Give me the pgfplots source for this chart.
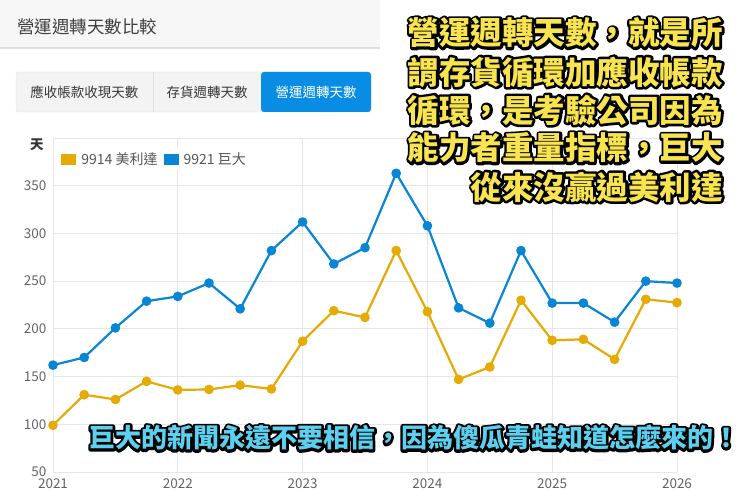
\documentclass[border=0pt]{standalone}
\usepackage{fontspec}
\setmainfont{Noto Sans CJK TC}
\usepackage{pgfplots}
\pgfplotsset{compat=1.18}
\definecolor{cblue}{RGB}{8,134,213}
\definecolor{cyellow}{RGB}{230,170,5}
\definecolor{gridc}{RGB}{230,230,230}
\definecolor{tickc}{RGB}{100,100,100}
\definecolor{legc}{RGB}{85,85,85}
\definecolor{tabbg}{RGB}{243,243,243}
\definecolor{tabline}{RGB}{222,222,222}
\definecolor{tabblue}{RGB}{8,140,228}
\definecolor{headbg}{RGB}{247,247,247}
\definecolor{oyellow}{RGB}{248,228,80}
\definecolor{ocyan}{RGB}{92,208,238}
\newcommand{\otext}[6]{%
  \node[anchor=#3,text=black,inner sep=0pt,font=\fontsize{#4}{#4}\selectfont\bfseries] at (#1,#2)
    {\special{pdf:literal direct 1 Tr 5 w 1 j 1 J 0 G}#6\special{pdf:literal direct 0 Tr}};
  \node[anchor=#3,text=#5,inner sep=0pt,font=\fontsize{#4}{#4}\selectfont\bfseries] at (#1,#2) {#6};}
\begin{document}
\begin{tikzpicture}[x=1pt,y=1pt]
\path[use as bounding box,fill=white] (0,0) rectangle (740,497);
% header
\fill[headbg] (0,449) rectangle (380,497);
\draw[tabline,line width=1.5pt] (0,449) -- (380,449);
\node[anchor=west,text=black!75,inner sep=0pt,font=\fontsize{17.5}{17.5}\selectfont] at (17,470) {營運週轉天數比較};
% tabs
\filldraw[fill=tabbg,draw=tabline,rounded corners=3pt] (16,385) rectangle (371,425);
\fill[tabblue,rounded corners=3pt] (261,385) rectangle (371,425);
\draw[tabline] (153,385) -- (153,425);
\node[text=black!78,inner sep=0pt,font=\fontsize{13.5}{13.5}\selectfont] at (84.5,405) {應收帳款收現天數};
\node[text=black!78,inner sep=0pt,font=\fontsize{13.5}{13.5}\selectfont] at (207,405) {存貨週轉天數};
\node[text=white,inner sep=0pt,font=\fontsize{13.5}{13.5}\selectfont] at (316,405) {營運週轉天數};
% axis
\begin{axis}[at={(53pt,25pt)}, anchor=south west, scale only axis,
  width=624pt, height=334pt,
  xmin=2021, xmax=2026, ymin=50, ymax=400,
  xtick={2021,2022,2023,2024,2025,2026},
  ytick={50,100,150,200,250,300,350,400},
  yticklabels={50,100,150,200,250,300,350,{}},
  grid=major, major grid style={color=gridc, line width=0.9pt},
  axis line style={draw=none}, major tick length=0pt,
  /pgf/number format/1000 sep={},
  /pgf/number format/assume math mode=true,
  tick label style={font=\fontsize{13.5}{13.5}\selectfont, text=tickc},
  yticklabel style={xshift=-3pt},
  xticklabel style={yshift=-3pt},
  clip=false,
  legend style={at={(0.01,0.968)}, anchor=north west, draw=none, fill=white,
    font=\fontsize{14}{14}\selectfont, text=legc, legend columns=-1, inner sep=2pt,
    /tikz/every odd column/.append style={column sep=3pt},
    /tikz/every even column/.append style={column sep=4pt}},
  legend image code/.code={\fill[#1,draw=none] (0pt,-5.5pt) rectangle (15pt,5.5pt);},
]
\addplot[color=cyellow, line width=2.2pt, line join=round, mark=*, mark size=3.7pt] coordinates {
(2021,99) (2021.25,131) (2021.5,126) (2021.75,145) (2022,136) (2022.25,136.5) (2022.5,141) (2022.75,137)
(2023,187) (2023.25,219) (2023.5,212) (2023.75,282) (2024,218) (2024.25,147) (2024.5,160) (2024.75,230)
(2025,188) (2025.25,189) (2025.5,168) (2025.75,231) (2026,227.5)};
\addlegendentry{9914 美利達}
\addplot[color=cblue, line width=2.2pt, line join=round, mark=*, mark size=3.7pt] coordinates {
(2021,162) (2021.25,170) (2021.5,201) (2021.75,229) (2022,234) (2022.25,248) (2022.5,221) (2022.75,282)
(2023,312) (2023.25,268) (2023.5,285) (2023.75,363) (2024,308) (2024.25,222) (2024.5,206) (2024.75,282)
(2025,227) (2025.25,227) (2025.5,207) (2025.75,250) (2026,248)};
\addlegendentry{9921 巨大}
\end{axis}
\node[text=black!80,inner sep=0pt,font=\fontsize{13.5}{13.5}\selectfont\bfseries] at (37,352) {天};
% overlay texts
\otext{723}{464}{east}{31.5}{oyellow}{營運週轉天數，就是所}
\otext{723}{425}{east}{31.5}{oyellow}{謂存貨循環加應收帳款}
\otext{723}{387}{east}{31.5}{oyellow}{循環，是考驗公司因為}
\otext{723}{349}{east}{31.5}{oyellow}{能力者重量指標，巨大}
\otext{723}{310}{east}{31.5}{oyellow}{從來沒贏過美利達}
\otext{89}{59}{west}{26}{ocyan}{巨大的新聞永遠不要相信，因為傻瓜青蛙知道怎麼來的！}
\end{tikzpicture}
\end{document}
